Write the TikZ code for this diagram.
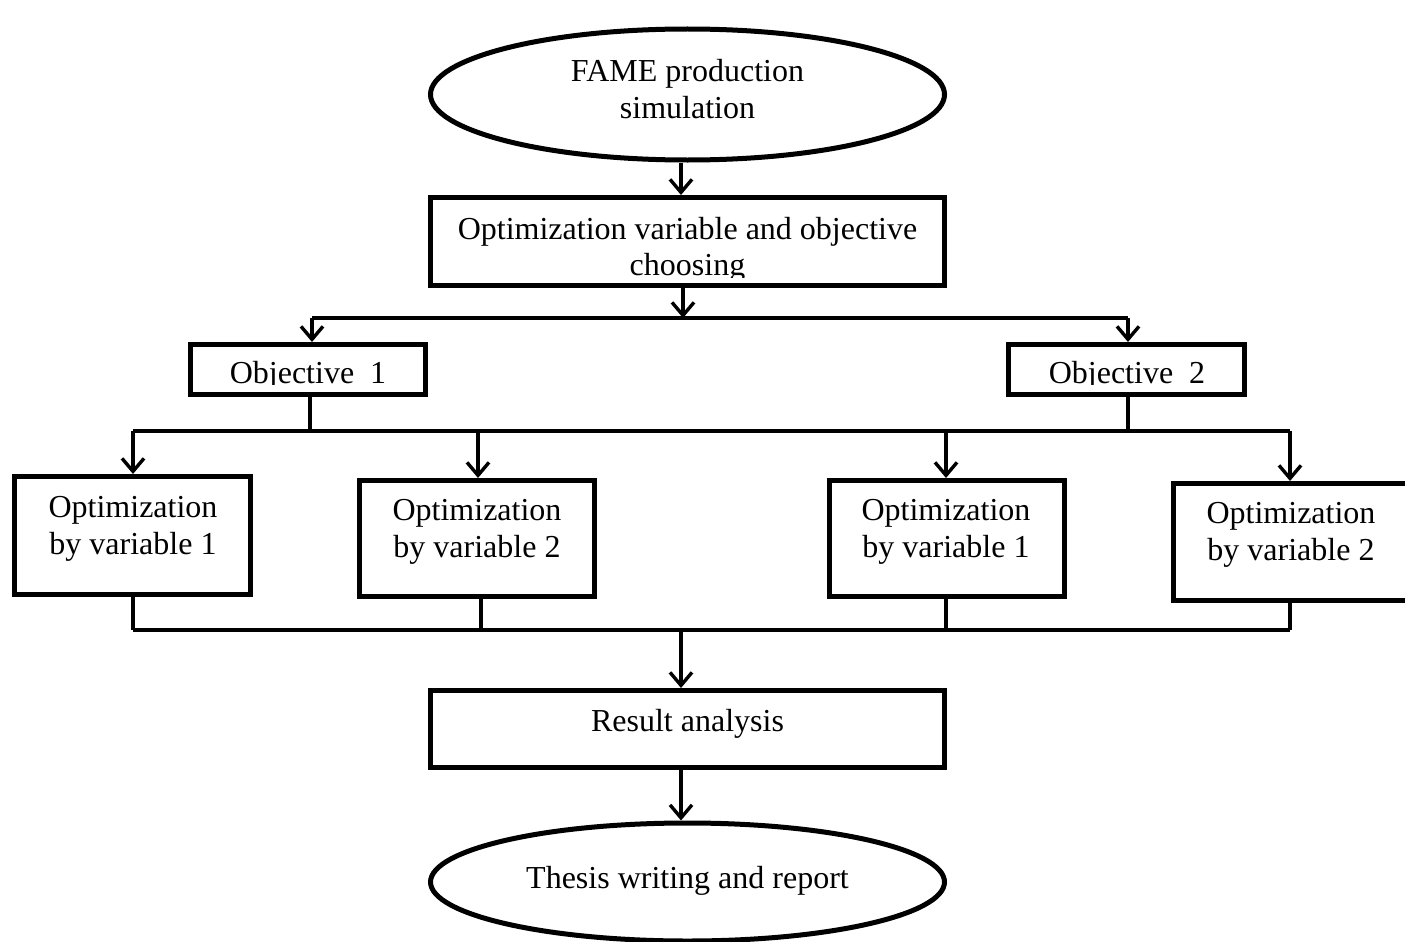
\documentclass[tikz,border=0pt]{standalone}
\usepackage{fontspec}
\setmainfont{Liberation Serif}
\usetikzlibrary{shapes.geometric,arrows.meta}
\begin{document}
\begin{tikzpicture}[x=1pt,y=-1pt,
  txt/.style={font=\fontsize{32}{36.5}\selectfont, align=center, inner sep=0pt},
  boxshape/.style={draw, line width=5pt, rectangle, inner sep=0pt},
  ovalshape/.style={draw, line width=5pt, ellipse, inner sep=0pt},
  conn/.style={line width=3.4pt},
  arr/.style={line width=3.4pt, -{Straight Barb[length=13pt,width=22pt]}}
]
\useasboundingbox (0,0) rectangle (1405,942);

% shapes
\node[ovalshape, minimum width=514, minimum height=131] (fame) at (687.5,94.5) {};
\node[boxshape, minimum width=514, minimum height=88] (choose) at (687.5,241.5) {};
\node[boxshape, minimum width=235, minimum height=50] (obj1) at (308,369.5) {};
\node[boxshape, minimum width=236, minimum height=50] (obj2) at (1126.5,369.5) {};
\node[boxshape, minimum width=236, minimum height=118] (o11) at (132.5,535.5) {};
\node[boxshape, minimum width=235, minimum height=116] (o12) at (477,538.5) {};
\node[boxshape, minimum width=235, minimum height=116] (o21) at (947,538.5) {};
\node[boxshape, minimum width=234, minimum height=117] (o22) at (1290.5,542) {};
\node[boxshape, minimum width=514, minimum height=77] (result) at (687.5,729) {};
\node[ovalshape, minimum width=514, minimum height=118] (thesis) at (687.5,882) {};

% texts
\node[txt] (famet) at (687.5,89) {FAME production\\simulation};
\begin{scope}
  \clip (0,0) rectangle (1405,277);
  \node[txt] (chooset) at (687.5,250) {Optimization variable and objective\\choosing};
\end{scope}
\begin{scope}
  \clip (0,0) rectangle (1405,384);
  \node[txt, anchor=base] (obj1t) at (308,383) {Objective\ \ 1};
  \node[txt, anchor=base] (obj2t) at (1127,383) {Objective\ \ 2};
\end{scope}
\node[txt] (o11t) at (133,529) {Optimization\\by variable 1};
\node[txt] (o12t) at (477,532) {Optimization\\by variable 2};
\node[txt] (o21t) at (946,532) {Optimization\\by variable 1};
\node[txt] (o22t) at (1291,535) {Optimization\\by variable 2};
\node[txt, anchor=base] (resultt) at (687.5,731) {Result analysis};
\node[txt, anchor=base] (thesist) at (687.5,888) {Thesis writing and report};

% helper coordinates
\coordinate (cx) at (681,0);
\coordinate (cx2) at (683,0);
\coordinate (h1l) at (312,318);
\coordinate (h1r) at (1128,318);
\coordinate (h1m) at (683,318);
\coordinate (h2l) at (133,431);
\coordinate (h2r) at (1290,431);
\coordinate (h3l) at (133,630);
\coordinate (h3r) at (1290,630);
\coordinate (h3m) at (681,630);

% connectors
\draw[arr] (fame.south -| cx) -- (choose.north -| cx);
\draw[arr] (choose.south -| cx2) -- (h1m);
\draw[conn] (h1l) -- (h1r);
\draw[arr] (h1l) -- (obj1.north -| h1l);
\draw[arr] (h1r) -- (obj2.north -| h1r);
\draw[conn] (obj1.south -| 310,0) -- (310,431);
\draw[conn] (obj2.south -| 1128,0) -- (1128,431);
\draw[conn] (h2l) -- (h2r);
\draw[arr] (h2l) -- (o11.north -| h2l);
\draw[arr] (478,431) -- (o12.north -| 478,0);
\draw[arr] (946,431) -- (o21.north -| 946,0);
\draw[arr] (h2r) -- (o22.north -| h2r);
\draw[conn] (o11.south -| h3l) -- (h3l);
\draw[conn] (o12.south -| 481,0) -- (481,630);
\draw[conn] (o21.south -| 946,0) -- (946,630);
\draw[conn] (o22.south -| h3r) -- (h3r);
\draw[conn] (h3l) -- (h3r);
\draw[arr] (h3m) -- (result.north -| h3m);
\draw[arr] (result.south -| cx) -- (thesis.north -| cx);
\end{tikzpicture}
\end{document}
